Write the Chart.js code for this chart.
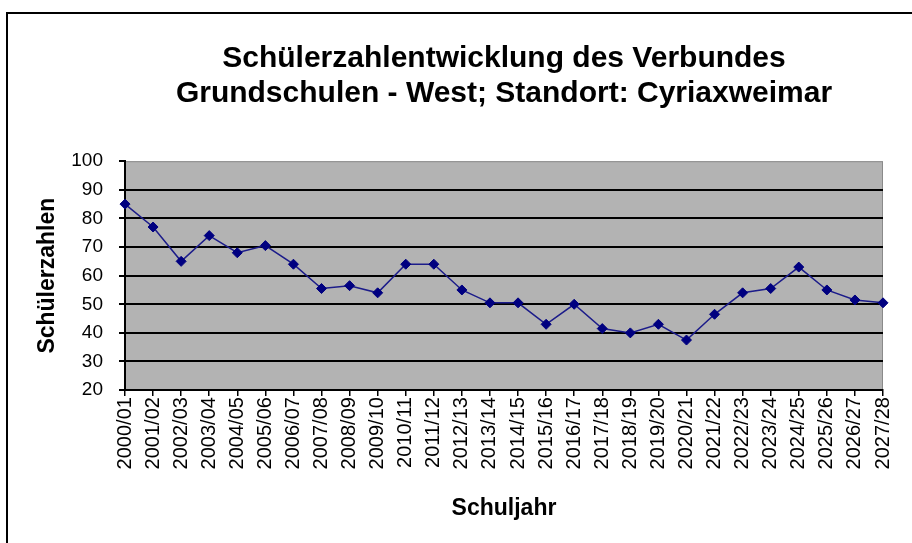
<!DOCTYPE html>
<html><head><meta charset="utf-8">
<script src="https://cdn.jsdelivr.net/npm/chart.js@4/dist/chart.umd.min.js"></script>
<style>
html,body{margin:0;padding:0;background:#fff;overflow:hidden;width:912px;height:543px}
#frame{position:absolute;left:6px;top:12px;width:920px;height:540px;border-left:2px solid #000;border-top:2px solid #000;}
#wrap{position:absolute;left:0;top:0;width:912px;height:543px}
</style></head><body>
<div id="frame"></div>
<div id="wrap"><canvas id="c" width="912" height="543"></canvas></div>
<script>
const schuljahre = ["2000/01","2001/02","2002/03","2003/04","2004/05","2005/06","2006/07","2007/08","2008/09","2009/10",
  "2010/11","2011/12","2012/13","2013/14","2014/15","2015/16","2016/17","2017/18","2018/19","2019/20",
  "2020/21","2021/22","2022/23","2023/24","2024/25","2025/26","2026/27","2027/28"];
const schuelerzahlen = [85, 77, 65, 74, 68, 70.5, 64, 55.5, 56.5, 54,
  64, 64, 55, 50.5, 50.5, 43, 50, 41.5, 40, 43,
  37.5, 46.5, 54, 55.5, 63, 55, 51.5, 50.5];
const titelZeilen = ["Schülerzahlentwicklung des Verbundes", "Grundschulen - West; Standort: Cyriaxweimar"];
const yAchseTitel = "Schülerzahlen";
const xAchseTitel = "Schuljahr";
const yMin = 20, yMax = 100, yStep = 10;

const FONT = "'Liberation Sans', Arial, sans-serif";

const plotBg = {
  id: 'plotBg',
  beforeDraw(chart) {
    const {ctx, chartArea: a} = chart;
    ctx.save();
    ctx.fillStyle = '#b3b3b3';
    ctx.fillRect(a.left, a.top, a.right - a.left, a.bottom - a.top);
    ctx.strokeStyle = '#8a8a8a';
    ctx.lineWidth = 1;
    ctx.strokeRect(a.left + 0.5, a.top + 0.5, a.right - a.left - 1, a.bottom - a.top - 1);
    ctx.restore();
  }
};

new Chart(document.getElementById('c'), {
  type: 'line',
  data: {
    labels: schuljahre,
    datasets: [{
      data: schuelerzahlen,
      borderColor: '#1c1c8a',
      borderWidth: 1.5,
      backgroundColor: '#000080',
      pointBackgroundColor: '#000080',
      pointBorderColor: '#000080',
      pointStyle: 'rectRot',
      pointRadius: 5,
      pointBorderWidth: 1,
      tension: 0,
      fill: false
    }]
  },
  options: {
    responsive: false,
    animation: false,
    layout: {padding: {left: 26, right: 29, top: 0, bottom: 17}},
    plugins: {
      legend: {display: false},
      tooltip: {enabled: false},
      title: {
        display: true,
        text: titelZeilen,
        color: '#000',
        fullSize: false,
        font: {family: FONT, size: 30, weight: 'bold', lineHeight: 1.17},
        padding: {top: 41, bottom: 50}
      }
    },
    scales: {
      x: {
        type: 'category',
        offset: false,
        grid: {display: true, drawOnChartArea: false, drawTicks: true, tickLength: 6, color: '#000', lineWidth: 1.5},
        border: {display: true, color: '#000', width: 2},
        ticks: {
          autoSkip: false, minRotation: 90, maxRotation: 90,
          color: '#000', padding: 1,
          font: {family: FONT, size: 20}
        },
        title: {
          display: true, text: xAchseTitel, color: '#000',
          font: {family: FONT, size: 23, weight: 'bold', lineHeight: 1.2},
          padding: {top: 24, bottom: 4}
        }
      },
      y: {
        min: yMin, max: yMax,
        afterFit: (scale) => { scale.width = 99; },
        grid: {
          drawTicks: true, tickLength: 6, lineWidth: 2,
          color: (c) => (c.tick && c.tick.value === yMax) ? 'rgba(0,0,0,0)' : '#000',
          tickColor: '#000'
        },
        border: {display: true, color: '#000', width: 2},
        ticks: {
          stepSize: yStep, color: '#000', padding: 16,
          font: {family: FONT, size: 19}
        },
        title: {
          display: true, text: yAchseTitel, color: '#000',
          font: {family: FONT, size: 23, weight: 'bold', lineHeight: 1.2},
          padding: {top: 8, bottom: 10}
        }
      }
    }
  },
  plugins: [plotBg]
});
</script>
</body></html>
